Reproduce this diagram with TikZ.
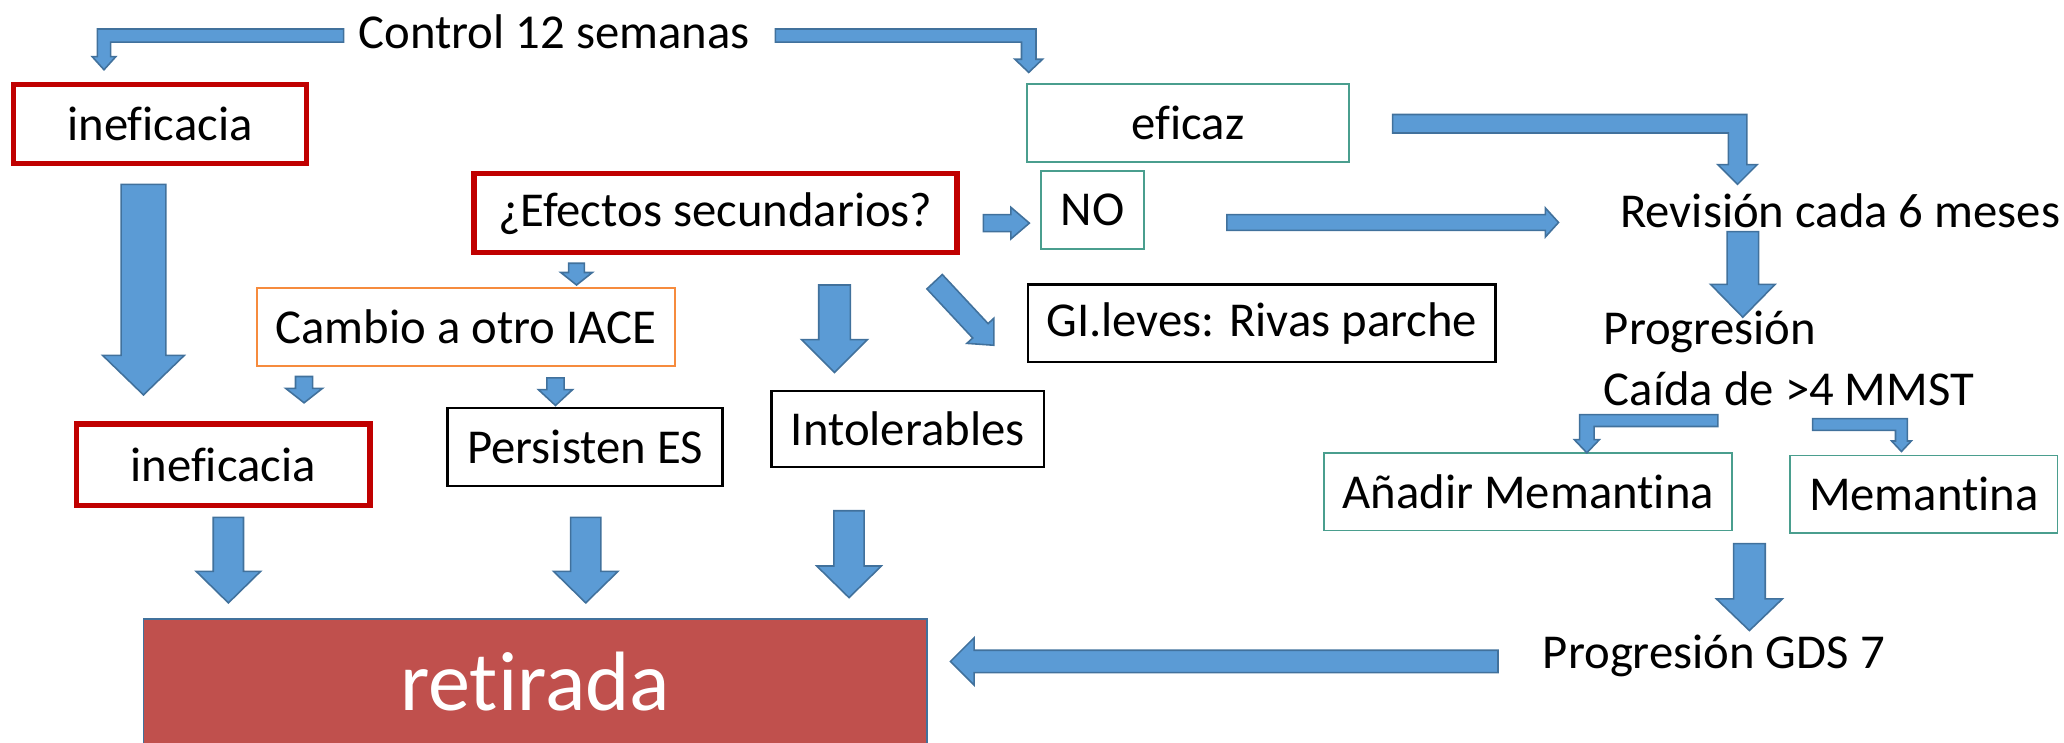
\documentclass[tikz,border=0pt]{standalone}
\usepackage{fontspec}
\setmainfont[Ligatures=NoCommon]{Carlito}
\definecolor{arrfill}{HTML}{5B9BD5}
\definecolor{arrline}{HTML}{41719C}
\definecolor{redb}{HTML}{C00000}
\definecolor{tealb}{HTML}{4A9E8E}
\definecolor{orangeb}{HTML}{F68B3D}
\definecolor{retfill}{HTML}{C0504D}
\tikzset{
  blockarrow/.style={fill=arrfill,draw=arrline,line width=0.6pt,line join=miter},
  txt/.style={font=\fontsize{18.5}{22}\selectfont,inner sep=0pt},
  basebox/.style={txt,rectangle,fill=white},
  redbox/.style={basebox,draw=redb,line width=2pt},
  tealbox/.style={basebox,draw=tealb,line width=0.7pt},
  blackbox/.style={basebox,draw=black,line width=0.9pt},
  orangebox/.style={basebox,draw=orangeb,line width=0.9pt},
}
% start point, angle, length, half shaft, half head, head length
\newcommand\barrow[6]{\begin{scope}[shift={(#1)},rotate=#2]
\filldraw[blockarrow] (0,-#4) -- ({#3-#6},-#4) -- ({#3-#6},-#5) -- (#3,0) -- ({#3-#6},#5) -- ({#3-#6},#4) -- (0,#4) -- cycle;
\end{scope}}
\begin{document}
\begin{tikzpicture}[x=0.5pt,y=-0.5pt]
\useasboundingbox (0,0) rectangle (1568,564);

% nodes
\node[txt] (ctrl) at (421,24) {Control 12 semanas};
\node[redbox,minimum width=111.5pt,minimum height=30pt] (inef1) at (121.5,94) {ineficacia};
\node[tealbox,minimum width=122.5pt,minimum height=29.5pt] (efic) at (902.5,93.5) {eficaz};
\node[redbox,minimum width=183.5pt,minimum height=30pt] (efect) at (543.5,162) {¿Efectos secundarios?};
\node[tealbox,minimum width=39pt,minimum height=29.5pt] (no) at (830,159.5) {NO};
\node[txt] (rev) at (1398,160) {Revisión cada 6 meses};
\node[orangebox,minimum width=159pt,minimum height=29.5pt] (cambio) at (354,248.5) {Cambio a otro IACE};
\node[blackbox,minimum width=177.5pt,minimum height=29.5pt] (gi) at (958.5,245.5) {GI.leves: Rivas parche};
\node[txt,anchor=base west] (prog1) at (1218,262) {Progresión};
\node[txt,anchor=base west] (prog2) at (1218,308) {Caída de >4 MMST};
\node[redbox,minimum width=111.5pt,minimum height=31pt] (inef2) at (169.5,353) {ineficacia};
\node[blackbox,minimum width=104.5pt,minimum height=29.5pt] (pers) at (444.5,339.5) {Persisten ES};
\node[blackbox,minimum width=103.5pt,minimum height=29pt] (intol) at (689.5,326) {Intolerables};
\node[tealbox,minimum width=155pt,minimum height=29.5pt] (anad) at (1161,373.5) {Añadir Memantina};
\node[tealbox,minimum width=101.5pt,minimum height=29.5pt] (mem) at (1461.5,375.5) {Memantina};
\node[txt] (gds) at (1302,498) {Progresión GDS 7};
\node[rectangle,fill=retfill,draw=arrline,line width=0.7pt,minimum width=297.5pt,minimum height=48pt,inner sep=0pt,
  text=white,font=\fontsize{32}{38}\selectfont] (ret) at (406.5,518) {retirada};

% bent arrows
\filldraw[blockarrow] (261,22) -- (74,22) -- (74,43) -- (70,43) -- (79,53) -- (88,43) -- (84,43) -- (84,32) -- (261,32) -- cycle;
\filldraw[blockarrow] (589,22) -- (787,22) -- (787,45) -- (792,45) -- (781.5,55) -- (771,45) -- (776,45) -- (776,32) -- (589,32) -- cycle;
\filldraw[blockarrow] (1058,87) -- (1327,87) -- (1327,125) -- (1335,125) -- (1320,140) -- (1305,125) -- (1313,125) -- (1313,101) -- (1058,101) -- cycle;
\filldraw[blockarrow] (1305,315) -- (1200,315) -- (1200,334) -- (1196,334) -- (1205.5,344) -- (1215,334) -- (1211,334) -- (1211,324) -- (1305,324) -- cycle;
\filldraw[blockarrow] (1377,318) -- (1449,318) -- (1449,335) -- (1452,335) -- (1444.5,343) -- (1437,335) -- (1440,335) -- (1440,327) -- (1377,327) -- cycle;

% straight block arrows
\barrow{109,140}{-90}{160}{17}{31}{30}
\barrow{747,169.5}{0}{35}{6.5}{12}{14}
\barrow{932,169}{0}{252}{6}{11}{10}
\barrow{1324,176}{-90}{65}{12}{24.5}{25}
\barrow{1329,413}{-90}{66}{12}{25}{24}
\barrow{1138,502.5}{180}{416}{8.5}{18}{18}
\barrow{438,200}{-90}{16.5}{6}{12}{9.5}
\barrow{231,286}{-90}{20}{6.5}{14}{11}
\barrow{422,287}{-90}{21}{6.5}{13}{12}
\barrow{634,216.5}{-90}{66.5}{12}{25}{25}
\barrow{710,214}{-47}{66}{8}{14}{15}
\barrow{173.5,393}{-90}{65}{11.5}{24.5}{24}
\barrow{445,393}{-90}{65}{11.5}{24.5}{24}
\barrow{645,388}{-90}{66}{11.5}{24.5}{24}
\end{tikzpicture}
\end{document}
